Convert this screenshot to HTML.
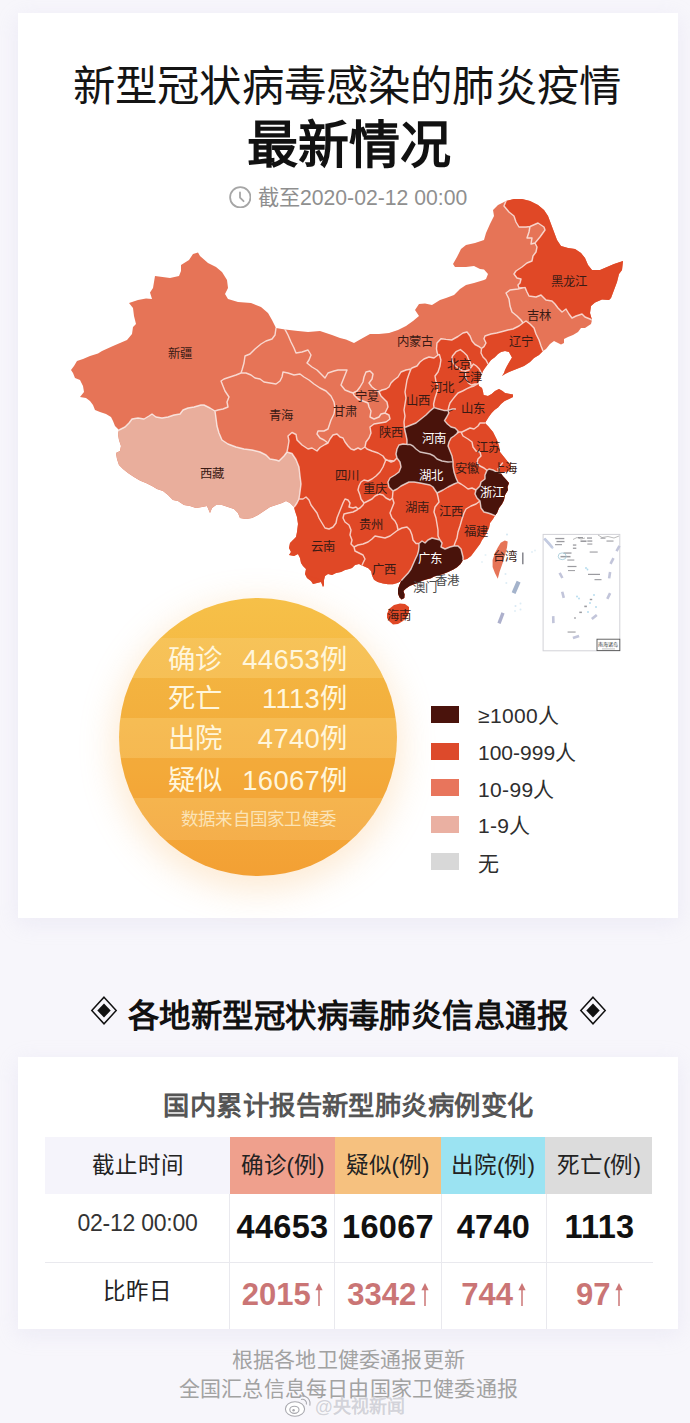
<!DOCTYPE html>
<html lang="zh-CN">
<head>
<meta charset="utf-8">
<title>新型冠状病毒感染的肺炎疫情 最新情况</title>
<style>
*{margin:0;padding:0;box-sizing:border-box}
html,body{width:690px;height:1423px;overflow:hidden}
body{position:relative;background:#f7f6fb;font-family:"Liberation Sans",sans-serif;color:#111}
.abs{position:absolute;white-space:nowrap}
.card{position:absolute;background:#fff;box-shadow:0 5px 20px rgba(200,194,228,.22)}
#card1{left:18px;top:13px;width:660px;height:905px}
#card2{left:18px;top:1057px;width:660px;height:272px}
#t1{left:17px;width:660px;top:61.7px;height:50px;line-height:50px;text-align:center;font-size:42.4px;letter-spacing:.15px;font-weight:400;color:#141414}
#t2{left:19px;width:660px;top:115.8px;height:60px;line-height:60px;text-align:center;font-size:51px;font-weight:700;color:#111}
#tsrow{left:18px;width:660px;top:184.4px;height:24px;display:flex;justify-content:center;align-items:center;font-size:21.2px;line-height:24px;font-weight:300;color:#8f8f8f}
#tsrow svg{width:22.6px;height:22.6px;margin-right:6.6px;flex:none;position:relative;top:.8px}
#tsrow span{position:relative;top:1.2px}
#map{left:0;top:0;width:690px;height:700px}
/* circle */
#circ{left:118.5px;top:597.5px;width:278px;height:278px;border-radius:50%;overflow:hidden;background:linear-gradient(180deg,#f6c048 0%,#f5b440 45%,#f3a034 100%)}
#circsh{left:122px;top:603px;width:271px;height:271px;border-radius:50%;box-shadow:0 8px 34px 8px rgba(249,190,118,.32)}
#circ .band{position:absolute;left:0;width:100%}
.crow{position:absolute;left:0;width:690px;height:40px;line-height:40px;color:#fff6dc;font-size:27.4px;font-weight:300}
.crow .l{position:absolute;left:168px}
.crow .r{position:absolute;right:342.5px;text-align:right;letter-spacing:.35px}
#src{left:119.5px;width:278px;text-align:center;top:807px;height:24px;line-height:24px;font-size:17.5px;letter-spacing:.3px;color:#fbe3b6}
/* legend */
.sw{position:absolute;left:431px;width:28.3px;height:17.3px}
.lg{position:absolute;left:478px;height:26px;line-height:26px;font-size:21px;letter-spacing:.35px;font-weight:300;color:#2e2e2e;white-space:nowrap}
/* section title */
#st{left:48px;width:600px;text-align:center;top:997px;height:40px;line-height:40px;font-size:31.4px;letter-spacing:.45px;font-weight:700;color:#111}
.dia{position:absolute;width:28px;height:29px}
#sub{left:18.5px;width:660px;top:1089.6px;height:32px;line-height:32px;text-align:center;font-size:26.3px;letter-spacing:.46px;font-weight:700;color:#555}
/* table */
.th{position:absolute;top:1137px;height:57px;line-height:57px;text-align:center;font-size:22.5px;font-weight:500;color:#222;white-space:nowrap}
.td{position:absolute;text-align:center;white-space:nowrap}
.vl{position:absolute;top:1194px;height:135px;width:1px;background:#e9e9ee}
.hl{position:absolute;left:45px;width:608px;height:1px;background:#e9e9ee}
.num{font-weight:700;font-size:32.5px;color:#111;height:40px;line-height:40px;letter-spacing:.3px}
.chg{font-weight:700;font-size:31px;color:#ca7575;height:40px;line-height:40px}
.ar{display:inline-block;width:8px;height:23px;margin-left:4.6px;vertical-align:baseline;position:relative;top:.5px}
.foot{position:absolute;left:18.5px;width:660px;text-align:center;color:#a2a2a2;font-size:21px;letter-spacing:.2px;height:28px;line-height:28px}
#wm{left:315px;top:1396px;height:22px;line-height:22px;font-size:18px;font-weight:700;color:#d3d3da;text-shadow:0 0 2px #fff,0 0 1px #fff}
#wb{left:284px;top:1394px;width:29px;height:24px}
</style>
</head>
<body>
<div class="card" id="card1"></div>
<div class="card" id="card2"></div>

<div class="abs" id="t1">新型冠状病毒感染的肺炎疫情</div>
<div class="abs" id="t2">最新情况</div>
<div class="abs" id="tsrow"><svg viewBox="0 0 22.6 22.6"><circle cx="11.3" cy="11.3" r="10.2" fill="none" stroke="#a6a6a6" stroke-width="1.8"/><path d="M11 6.4V11.6L14.6 15.2" fill="none" stroke="#a6a6a6" stroke-width="1.8" stroke-linecap="round" stroke-linejoin="round"/></svg><span>截至2020-02-12 00:00</span></div>

<svg class="abs" id="map" viewBox="0 0 690 700">
<!--MAP-->
<defs><clipPath id="cn"><path d="M119 430L115 426L113 421L111 417L106 414L100 412L95 410L93 405L90 401L86 398L80 397L84 392L83 386L80 380L75 378L73 373L71 370L74 366L77 361L83 359L90 356L98 353.5L102 351L113 346L127 340L132 334L133 327L136 324L134 316L133 308L129 303L138 300L146 298.6L152 299L150 292.4L153 288L155 276L170 278L179 276L181 271L181 265L189 260L193 254L198 252.4L200 256L208 263L216 267L222 272L227 280L228 288L225 294L228 299L238 302L251 303L261 307L268 313L272 320L276 328L285 329.4L298 331L308 332L320 331L332 335L340 338L346 339.5L354 343L361 339L370 334L379 334L389 333L398 330L406 326L413 321L419 316L415 310L419 304L425 303.6L432 305L440 300L446 298L454 295L460 289L466 285L474 283L484 280L486 279L488 274L484 269.5L480 269L474 266L466 267L455 267L453 264L457 257L461 249L466 245L475 243L484 240L486 233L490 224L494 216L493 210L498 205L504 202L506 201L514 199L522 199L530 201L538 205L544 210L548 216L551 224L554 232L557 240L561 246L568 248L575 249L581 253L585 258L588 265L592 270L600 270L607 267L614 264L623 261L622 270L619 274L617 282L614 290L611 298L609 300L602 299.5L595 302.5L591 306L590 313L592 320L591 324L585 328L581 328L578 332L573 335L568 337L564 339L564 343L561 344.5L554 341L550 344L546 349L543 351L539 355L534 358L530 362L524 366L519 368L514 370L509 372L505 374L502 376L504 373L505 370L507 366L509 362.6L512 357.5L510 354L509 352L505 351L501 352L498 354L494.5 357.5L491 360L488 364L485 368L483 371L481.5 375L480 379L478 383L479 386L482 388L483 391.6L483.6 395L488 396L491.6 394L495 391L499 389L502.5 391L505 393L510 394L513 394.5L513 397L509 399L504.6 401L501 404L498 407.5L494.5 410L491.6 413L488.7 417L486.5 420.6L485 423L488 426L493 432L497 440L499 446L500 452L504 457L508 462L511 465L510.8 469L508 471.5L504 471.8L500.5 472.8L502.8 476L506 479.5L509 483L507.5 487L508 490L505 495L504 500L502 504L499 508L497 513L495 515.6L493 519L490 523L489 528L487 532L485 536L482 540L480 544L477 548L474 552L471 556L467 559L463 560L460.5 564L457 567.3L453.3 569.6L448 572L443 574L438 575.6L434 576.6L431 578.3L427 579.3L422 580.8L418 583L414 584.3L410 585.8L406 588.5L403.4 591L404.6 594.5L404.3 598L401.6 599.4L399.4 597.2L398 593.6L398 589.3L399.4 585L401.6 580.3L400 581.5L397.2 583L393 584.2L388 584.2L383 583.5L377.7 582L374 579.8L372 575.5L371.2 571.2L368.3 568.3L364.5 566.6L362 565.5L359 564L355 565L352 568L349 569L345 570L341 572L336 573L332 575L328 574L325 576L324 580L324 585L323 587L321 582L317 583L313 584L311 581L307 578L305 574L306 569L303 566L301 563L300 558L298 554L294 556L289 555L291 552L289 548L290 543L293 540L296 537L297 532L298 524L297 517L295 511L294 507L290 503L286 501L282 503L276 505L270 507L264 511L258 515L252 518L246 519L240 518L238 513L234 509L228 507L222 505L216 505L212 508L210 513L207 506L202 507L196 508L190 506L184 505L178 501L173 500L168 495L163 491L157 489L152 486L146 483L141 481L139 480L134 477L128 473L123 469L119 465L117 459L116 453L120 451L121 446L119 440L118 434Z"/></clipPath></defs>
<path d="M119 430L115 426L113 421L111 417L106 414L100 412L95 410L93 405L90 401L86 398L80 397L84 392L83 386L80 380L75 378L73 373L71 370L74 366L77 361L83 359L90 356L98 353.5L102 351L113 346L127 340L132 334L133 327L136 324L134 316L133 308L129 303L138 300L146 298.6L152 299L150 292.4L153 288L155 276L170 278L179 276L181 271L181 265L189 260L193 254L198 252.4L200 256L208 263L216 267L222 272L227 280L228 288L225 294L228 299L238 302L251 303L261 307L268 313L272 320L276 328L285 329.4L298 331L308 332L320 331L332 335L340 338L346 339.5L354 343L361 339L370 334L379 334L389 333L398 330L406 326L413 321L419 316L415 310L419 304L425 303.6L432 305L440 300L446 298L454 295L460 289L466 285L474 283L484 280L486 279L488 274L484 269.5L480 269L474 266L466 267L455 267L453 264L457 257L461 249L466 245L475 243L484 240L486 233L490 224L494 216L493 210L498 205L504 202L506 201L514 199L522 199L530 201L538 205L544 210L548 216L551 224L554 232L557 240L561 246L568 248L575 249L581 253L585 258L588 265L592 270L600 270L607 267L614 264L623 261L622 270L619 274L617 282L614 290L611 298L609 300L602 299.5L595 302.5L591 306L590 313L592 320L591 324L585 328L581 328L578 332L573 335L568 337L564 339L564 343L561 344.5L554 341L550 344L546 349L543 351L539 355L534 358L530 362L524 366L519 368L514 370L509 372L505 374L502 376L504 373L505 370L507 366L509 362.6L512 357.5L510 354L509 352L505 351L501 352L498 354L494.5 357.5L491 360L488 364L485 368L483 371L481.5 375L480 379L478 383L479 386L482 388L483 391.6L483.6 395L488 396L491.6 394L495 391L499 389L502.5 391L505 393L510 394L513 394.5L513 397L509 399L504.6 401L501 404L498 407.5L494.5 410L491.6 413L488.7 417L486.5 420.6L485 423L488 426L493 432L497 440L499 446L500 452L504 457L508 462L511 465L510.8 469L508 471.5L504 471.8L500.5 472.8L502.8 476L506 479.5L509 483L507.5 487L508 490L505 495L504 500L502 504L499 508L497 513L495 515.6L493 519L490 523L489 528L487 532L485 536L482 540L480 544L477 548L474 552L471 556L467 559L463 560L460.5 564L457 567.3L453.3 569.6L448 572L443 574L438 575.6L434 576.6L431 578.3L427 579.3L422 580.8L418 583L414 584.3L410 585.8L406 588.5L403.4 591L404.6 594.5L404.3 598L401.6 599.4L399.4 597.2L398 593.6L398 589.3L399.4 585L401.6 580.3L400 581.5L397.2 583L393 584.2L388 584.2L383 583.5L377.7 582L374 579.8L372 575.5L371.2 571.2L368.3 568.3L364.5 566.6L362 565.5L359 564L355 565L352 568L349 569L345 570L341 572L336 573L332 575L328 574L325 576L324 580L324 585L323 587L321 582L317 583L313 584L311 581L307 578L305 574L306 569L303 566L301 563L300 558L298 554L294 556L289 555L291 552L289 548L290 543L293 540L296 537L297 532L298 524L297 517L295 511L294 507L290 503L286 501L282 503L276 505L270 507L264 511L258 515L252 518L246 519L240 518L238 513L234 509L228 507L222 505L216 505L212 508L210 513L207 506L202 507L196 508L190 506L184 505L178 501L173 500L168 495L163 491L157 489L152 486L146 483L141 481L139 480L134 477L128 473L123 469L119 465L117 459L116 453L120 451L121 446L119 440L118 434Z" fill="#e67457"/>
<g clip-path="url(#cn)">
<path d="M119 430L125 427L129 423L132 419L138 418L144 419L149 416L152 414L156 417L162 418L168 417L174 415L180 414L183 410L188 408L194 407L201 405L204 405L210 408L215 411L216 418L217 426L219 433L222 440L228 444L236 447L244 449L252 450L260 452L266 455L270 459L276 460L279 461L284 456L287 452L292 453.5L296 459.5L299 467L300 476L301 484L300 492L299 499L297 503L295 506L294 507L294 530L100 530L100 430Z" fill="#e9ae9c"/>
<path d="M543 351L541 346L539 340L536 334L534 328L530 324L526 321L523 323L519 326L513 329L508 330L502.5 331.5L496.7 333L491 334L485 336L484 338.7L486 343L484 346.6L481.5 348.5L479 346.7L475 344.5L472 341L470 336L467 332L463 333L458 336.5L451.7 340L446 339.4L441 338.7L437 343L436.5 348.8L437 352L438 355L434 358L429 357L424 359L420 362L417 366L412 368L411 369L406 370L401 372L398 377L394 380L391 383L389 387L386 389L382 390L379 391.6L381 396L384 399L387 402L388 407L386 411L385 413L389 415L390 419L386 422L380 423L374 424L370 427L371 433L369 438L366 442L365 447L361 449.5L358 448L354 450L351 449L348 446L345 442L343 438L340 437L337 434L333 435L330 439L328 443L325 444.5L320 447.5L317 451L312 448L308 449L302 445L297 440L296 434.5L292 432.5L288 436L289 441L288 447L287 452L292 453.5L296 459.5L299 467L300 476L301 484L300 492L299 499L297 503L295 506L294 507L280 520L280 640L560 640L560 351Z" fill="#e04826"/>
<path d="M506 201L504 206L509 212L514 216L516 222L519 227L526 227L530 226.5L538 223L544 227L545 230L540 237L535 243L537 247L536 252L533 256L532 261L527 263L522 267L516 271L514 274L517 278L521 279L520 283L518 285L519 288L525 287.4L527 292L529 296L536 297L541 295L546 300L552 301L555 304L558 308L562 312L566 309L569 314L572 318L576 316L582 314L585 317L590 319L592 320L640 320L640 190L506 190Z" fill="#e04826"/>
<path d="M404.4 427.4L406 427L411 425L416 423L421 419L426 415L430 411L434 407.6L438.7 409L443.8 410.4L448 410.4L452.5 409L455.4 409L449 412L448 410.4L448.8 413L446.7 417L444.5 420.6L447.4 424L451 427L455 428L458 431L457 433.5L454 436L451 438L449 442L448 446L450 451L452 456L453 461.6L448 462L442 461L437 459L434 456L430 454L425 453L420 452L416 449L413 446L410 444.4L407 444.4L407 440L406 435L405 431L404.4 427.4Z" fill="#49130b"/>
<path d="M397 458L396 454L397 449L399 445L403 444L407 444.4L410 444.4L413 446L416 449L420 452L425 453L430 454L434 456L437 459L442 461L448 462L453 461.6L453 466L454 472L456 478L458 482.4L454 484L448 487L443 490L439 492L437 493L435 490L433 487L430 485L425 484L420 483L414 482L409 482L405 484L401 486L397 489L393 491L389 487L388 482L390 478L395 475L399 472L401 467L400 462L397 458Z" fill="#49130b"/>
<path d="M487 470.4L489 469L493 470L496 471.6L498.5 472.4L500.5 472.8L515 476L520 520L495 515.6L491 514L488 513L484 512L481 508L480 501L477 498L475 494L476 490L477 489L480 486L481 482L485 479L485 475L487 470.4Z" fill="#49130b"/>
<path d="M419 543.5L422 541L425 543L428 540L432 538L436 539L440 540L442 543L441 547L445 549L450 547L454 546L458 546L461 549L462 553L463 557L463 560L475 575L410 610L395 600L395 585L401.6 580.3L404.5 577L408 573.3L411 569L413.2 564L415.4 559L417.3 555L418.5 551L419 547L419 543.5Z" fill="#49130b"/>
<path d="M119 430L125 427L129 423L132 419L138 418L144 419L149 416L152 414L156 417L162 418L168 417L174 415L180 414L183 410L188 408L194 407L201 405L204 405L210 408L215 411 M215 411L216 418L217 426L219 433L222 440L228 444L236 447L244 449L252 450L260 452L266 455L270 459L276 460L279 461L284 456L287 452 M287 452L292 453.5L296 459.5L299 467L300 476L301 484L300 492L299 499 M299 499L297 503L295 506L294 507 M215 411L218 410L223 409L228 407L227 402L229 397L225 391L223 386L221 381L224 379L230 377L236 375L241 373 M241 373L242 370L244 363L245 356L250 354L255 349L261 344L266 341L272 339L275 335L276 328 M241 373L246 373L251 375L255 378L260 379L264 382L270 383L276 384L280 381L282 377L283 372L288 373L294 375L300 374L304 377L309 380L314 384L320 388L326 391L331 396L334 402L335 408L334 414L331 420L329 426L328 429L324 431L318 431L317 434L320 438L324 440L328 443 M285 329.4L288 335L291 342L294 348L296 353L302 352L308 350L311 355L309 360L307 363L312 367L317 370L321 374L325 378L328 373L334 371L338 370L344 370L347 370L345 375L343 380L341 385L345 390L350 392L353 393 M353 393L357 391L360 387L363 382L364 377L366 372L370 371L373 374L372 379L369 383L372 387L376 390L379 391.6 M353 393L354 395L358 399L363 401L368 403L369 407L371 411L370 417L374 419L379 417L381 414L385 413 M379 391.6L381 396L384 399L387 402L388 407L386 411L385 413 M385 413L389 415L390 419L386 422L380 423L374 424L370 427L371 433L369 438L366 442L365 447 M365 447L361 449.5L358 448L354 450L351 449L348 446L345 442L343 438L340 437L337 434L333 435L330 439L328 443 M328 443L325 444.5L320 447.5L317 451L312 448L308 449L302 445L297 440L296 434.5L292 432.5L288 436L289 441L288 447L287 452 M379 391.6L382 390L386 389L389 387L391 383L394 380L398 377L401 372L406 370L411 369 M411 369L412 368L417 366L420 362L424 359L429 357L434 358L438 355 M438 355L437 352L436.5 348.8L437 343L441 338.7L446 339.4L451.7 340L458 336.5L463 333L467 332L470 336L472 341L475 344.5L479 346.7L481.5 348.5 M481.5 348.5L484 346.6L486 343L484 338.7L485 336L491 334L496.7 333L502.5 331.5L508 330L513 329L519 326L523 323 M481.5 348.5L481 353L483 357L486 360L488 364 M523 323L526 321L530 324L534 328L536 334L539 340L541 346L543 351 M523 323L521 320L517 316L512 312L510 306L509 299L506 293L510 290L518 289L525 287.4 M525 287.4L527 292L529 296L536 297L541 295L546 300L552 301L555 304L558 308L562 312L566 309L569 314L572 318L576 316L582 314L585 317L590 319L592 320 M506 201L504 206L509 212L514 216L516 222L519 227L526 227L530 226.5L538 223L544 227L545 230L540 237L535 243L537 247L536 252L533 256L532 261L527 263L522 267L516 271L514 274L517 278L521 279L520 283L518 285L519 288L525 287.4 M530 226.5L529 232L527 238L531 238L532 238L531 244L535 243 M411 369L409 374L407 380L406 386L405 392L406 398L405 404L404 410L405 416L404 422L404.4 427.4 M438 355L439.4 354.6L440.9 360L440 366L438 372L435 376L435.8 380.7L438 386.5L437 392L435 398L433.6 404L434 407.6 M404.4 427.4L406 427L411 425L416 423L421 419L426 415L430 411L434 407.6 M404.4 427.4L405 431L406 435L407 440L407 444.4 M407 444.4L403 444L399 445L397 449L396 454L397 458 M397 458L396 459L394 461 M394 461L391 462L387 460L385 459L383 456L378 453L372 451L367 449L365 447 M434 407.6L438.7 409L443.8 410.4L448 410.4 M448 410.4L452.5 409L455.4 409 M448 410.4L448.8 406.8L450 403L452.5 399.6L455.4 396L458 393L462.6 391L467 388.7L470.6 387L474 386L478 383.6 M448 410.4L448.8 413L446.7 417L444.5 420.6L447.4 424L451 427L455 428L458 431L457 433.5 M457 433.5L454 436L451 438L449 442L448 446L450 451L452 456L453 461.6 M453 461.6L448 462L442 461L437 459L434 456L430 454L425 453L420 452L416 449L413 446L410 444.4L407 444.4 M457 433.5L459 432L462 432L466 430L470 428L474 429L478 426L480 423L485 423 M461 432L463 436L468 439L472 442L473 447L476 451L480 452L481 456L478 459L477 463L480 466L484 468L487 470.4 M487 470.4L489 469L493 470L496 471.6L498.5 472.4L500.5 472.8 M502.5 463L499.6 466.6L498 469L498.8 472.4 M487 470.4L485 475L485 479L481 482L480 486L477 489L476 490 M476 490L472 488L468 489L464 486L461 484L458 482.4 M453 461.6L453 466L454 472L456 478L458 482.4 M458 482.4L454 484L448 487L443 490L439 492L437 493 M437 493L435 490L433 487L430 485L425 484L420 483L414 482L409 482L405 484L401 486L397 489L393 491 M393 491L389 487L388 482L390 478L395 475L399 472L401 467L400 462L397 458 M393 491L392.4 498 M394 461L385.6 460L385 462L383 467L380 472L376 476L372 479L368 481L364 480L361 482L359 486L358 490L360 495L361 499L364 503 M364 503L368 501L372 499L375 496L379 494L383 495L386 498L390 500L392.4 498 M358 509L360 508L363 505L364 503 M299 499L303 499L306 497L309 500L311 505L314 509L317 513L319 518L322 523L325 528L329 529L333 527L336 523L337 518L339 513L341 508L343 503L345 499L348 500L350 503L349 507L353 508L356 507L358 509 M358 509L357 510L353 512L348 513L344 514L343 518L345 522L349 525L351 530L350 535L352 540L351 544L354 547 M354 547L355 551L359 553L363 555L365 559L363 563L362 565.5 M354 547L358 545L363 544L368 542L372 539L375 536L380 537L385 538L390 536L394 533L398 530 M392.4 498L394 503L392 508L390 513L392 518L395 521L397 525L398 530 M398 530L402 528L407 527L410 530L412 535L413 540L416 543.5L419 543.5 M419 543.5L419 547L418.5 551L417.3 555L415.4 559L413.2 564L411 569L408 573.3L404.5 577L401.6 580.3 M419 543.5L422 541L425 543L428 540L432 538L436 539L440 540 M440 540L442 543L441 547L445 549L450 547L454 546 M454 546L458 546L461 549L462 553L463 557L463 560 M437 493L438 497L439 502L435 507L434 512L436 518L437 524L438 530L438 536L440 540 M480 501L476 504L471 506L466 509L464 513L462 519L460 526L458 532L457 538L455 543L454 546 M476 490L475 494L477 498L480 501 M480 501L481 508L484 512L488 513L491 514L495 515.6 M452.5 356L456 351.7L460.4 349.6L464 352.5L467 355.4L468.4 359L470.6 363L471.3 367L469 370L465.5 371L462 370.6L459 368.4L455.4 366L453 362.6L451.7 359L452.5 356 M471.3 367L473.5 364L476.4 366L479.3 369L481.5 373.5 M478 383.6L475 384L471.3 385L468.4 383L466 379L465.5 375L465.5 371" fill="none" stroke="#fff" stroke-opacity=".72" stroke-width="1.45" stroke-linejoin="round" stroke-linecap="round"/>
</g>
<path d="M387 614L389 609L394 605L400 603.6L405 604L409 607L409 612L407 617L403 621L398 624L393 624.4L389 621L387 618Z" fill="#e04826"/>
<path d="M504.8 540.4L507.7 541.6L507 547.4L504.8 555.5L502.5 563.6L499.6 571.7L497.8 578.7L494.9 572.9L492.6 567L492.6 560L494.9 553L497.8 547.4L500.7 542.8Z" fill="#e67457"/>
<g font-family="Liberation Sans, sans-serif" font-size="12.4" text-anchor="middle">
<text x="180" y="358.1" fill="#3a1a14">新疆</text>
<text x="212" y="478.1" fill="#3a1a14">西藏</text>
<text x="281" y="420.1" fill="#3a1a14">青海</text>
<text x="345" y="416.1" fill="#3a1a14">甘肃</text>
<text x="415" y="346.1" fill="#3a1a14">内蒙古</text>
<text x="367" y="400.6" fill="#3a1a14">宁夏</text>
<text x="569" y="286.1" fill="#3a1a14">黑龙江</text>
<text x="539" y="320.1" fill="#3a1a14">吉林</text>
<text x="521" y="345.6" fill="#3a1a14">辽宁</text>
<text x="458.5" y="369.1" fill="#3a1a14">北京</text>
<text x="470" y="382.1" fill="#3a1a14">天津</text>
<text x="441.5" y="391.6" fill="#3a1a14">河北</text>
<text x="418" y="405.1" fill="#3a1a14">山西</text>
<text x="472.5" y="412.6" fill="#3a1a14">山东</text>
<text x="391" y="437.1" fill="#3a1a14">陕西</text>
<text x="433.5" y="443.1" fill="#fff">河南</text>
<text x="488" y="452.1" fill="#3a1a14">江苏</text>
<text x="466.5" y="473.1" fill="#3a1a14">安徽</text>
<text x="504.8" y="473.1" fill="#3a1a14">上海</text>
<text x="430.5" y="480.1" fill="#fff">湖北</text>
<text x="491.5" y="497.1" fill="#fff">浙江</text>
<text x="347" y="480.1" fill="#3a1a14">四川</text>
<text x="375" y="493.1" fill="#3a1a14">重庆</text>
<text x="416.5" y="511.6" fill="#3a1a14">湖南</text>
<text x="450.5" y="516.1" fill="#3a1a14">江西</text>
<text x="371" y="529.1" fill="#3a1a14">贵州</text>
<text x="475.5" y="535.6" fill="#3a1a14">福建</text>
<text x="323" y="551.1" fill="#3a1a14">云南</text>
<text x="384.3" y="574.1" fill="#3a1a14">广西</text>
<text x="430" y="562.6" fill="#fff">广东</text>
<text x="504.8" y="561.1" fill="#3a1a14">台湾</text>
<text x="447" y="585.1" fill="#4a4a4a">香港</text>
<text x="425" y="592.1" fill="#4a4a4a">澳门</text>
<text x="399" y="620.1" fill="#3a1a14">海南</text>
</g>
<rect x="543.1" y="534.4" width="76.7" height="116.4" fill="#fff" stroke="#d2d2d8" stroke-width="1"/>
<rect x="597" y="639.2" width="22.8" height="11.4" fill="#fff" stroke="#555" stroke-width="0.9"/>
<text x="608.4" y="645.6" font-family="Liberation Sans, sans-serif" font-size="5" text-anchor="middle" fill="#333">南海诸岛</text>
<path d="M602 648.9H615" stroke="#999" stroke-width="0.6"/>
<path d="M544.3 538.5L552.3 547.5" stroke="#c2c5da" stroke-width="2.6" opacity="1"/>
<path d="M616.5 551.1L619.5 545.9" stroke="#c2c5da" stroke-width="2.6" opacity="1"/>
<path d="M610.5 563.9L613.5 558.1" stroke="#c2c5da" stroke-width="2.6" opacity="1"/>
<path d="M609.1 578.4L610.1 572.0" stroke="#c2c5da" stroke-width="2.6" opacity="1"/>
<path d="M607.3 598.9L610.1 593.1" stroke="#c2c5da" stroke-width="2.6" opacity="1"/>
<path d="M591.8 619.1L596.8 614.9" stroke="#c2c5da" stroke-width="2.6" opacity="1"/>
<path d="M572.9 638.1L579.1 635.9" stroke="#c2c5da" stroke-width="2.6" opacity="1"/>
<path d="M553.2 616.1L553.4 623.1" stroke="#c2c5da" stroke-width="2.6" opacity="1"/>
<path d="M562.2 591.7L563.8 597.9" stroke="#c2c5da" stroke-width="2.6" opacity="1"/>
<path d="M559.6 572.8L562.4 578.0" stroke="#c2c5da" stroke-width="2.6" opacity="1"/>
<rect x="555.3" y="537.9" width="9" height="1.3" fill="#5d5d66" opacity=".62"/>
<rect x="556.5" y="540.9" width="8" height="1.3" fill="#5d5d66" opacity=".62"/>
<rect x="555.0" y="544.1" width="7" height="1.1" fill="#5d5d66" opacity=".62"/>
<rect x="578.0" y="537.0" width="5" height="1.2" fill="#5d5d66" opacity=".62"/>
<rect x="580.5" y="540.4" width="6" height="1.6" fill="#5d5d66" opacity=".62"/>
<rect x="587.0" y="537.4" width="5" height="1.3" fill="#5d5d66" opacity=".62"/>
<rect x="587.3" y="540.4" width="5" height="1.3" fill="#5d5d66" opacity=".62"/>
<rect x="587.3" y="543.5" width="5" height="1.1" fill="#5d5d66" opacity=".62"/>
<rect x="600.5" y="537.7" width="5" height="1" fill="#5d5d66" opacity=".62"/>
<rect x="606.5" y="540.5" width="7" height="1.1" fill="#5d5d66" opacity=".62"/>
<rect x="572.9" y="544.4" width="3.4" height="1.3" fill="#5d5d66" opacity=".62"/>
<rect x="572.9" y="547.6" width="3.4" height="1.3" fill="#5d5d66" opacity=".62"/>
<rect x="563.5" y="552.4" width="8" height="1.3" fill="#5d5d66" opacity=".62"/>
<rect x="560.5" y="555.9" width="10" height="1.5" fill="#5d5d66" opacity=".62"/>
<rect x="567.3" y="559.5" width="7" height="1.1" fill="#5d5d66" opacity=".62"/>
<rect x="589.7" y="551.5" width="8" height="1.1" fill="#5d5d66" opacity=".62"/>
<rect x="567.5" y="565.9" width="9" height="1.2" fill="#5d5d66" opacity=".62"/>
<rect x="568.0" y="570.1" width="7" height="1" fill="#5d5d66" opacity=".62"/>
<rect x="588.0" y="573.8" width="12" height="1.2" fill="#5d5d66" opacity=".62"/>
<rect x="594.5" y="579.1" width="7" height="1.1" fill="#5d5d66" opacity=".62"/>
<rect x="589.8" y="598.8" width="2.4" height="1.4" fill="#5d5d66" opacity=".62"/>
<rect x="584.3" y="605.6" width="2.6" height="1.6" fill="#5d5d66" opacity=".62"/>
<rect x="579.3" y="611.6" width="2.6" height="1.5" fill="#5d5d66" opacity=".62"/>
<rect x="574.0" y="617.4" width="2" height="1.2" fill="#5d5d66" opacity=".62"/>
<rect x="567.6" y="631.5" width="8" height="1.1" fill="#5d5d66" opacity=".62"/>
<ellipse cx="562.2" cy="556.3" rx="4" ry="3.4" fill="none" stroke="#9fc7d6" stroke-width=".8"/>
<path d="M544.5 538.5L549 543L553 548.5" fill="none" stroke="#c3cde3" stroke-width="2.2" opacity=".8"/>
<path d="M573 539.5L577 537.5L581 539L585 538" fill="none" stroke="#777" stroke-width=".7" opacity=".7"/>
<path d="M598 535L602 537.5L608 536.5L614 538L619 536" fill="none" stroke="#777" stroke-width=".7" opacity=".7"/>
<circle cx="586" cy="568" r=".9" fill="#9ed0e8" opacity=".8"/>
<circle cx="587.5" cy="569.5" r=".9" fill="#9ed0e8" opacity=".8"/>
<circle cx="577" cy="596.5" r=".9" fill="#9ed0e8" opacity=".8"/>
<circle cx="579" cy="598.5" r=".9" fill="#9ed0e8" opacity=".8"/>
<circle cx="590" cy="603" r=".9" fill="#9ed0e8" opacity=".8"/>
<circle cx="596" cy="607" r=".9" fill="#9ed0e8" opacity=".8"/>
<circle cx="588" cy="612" r=".9" fill="#9ed0e8" opacity=".8"/>
<circle cx="594" cy="595" r=".9" fill="#9ed0e8" opacity=".8"/>
<path d="M513.6 593.1L518.6 581.7" stroke="#a4b3cb" stroke-width="4.2" opacity="1"/>
<path d="M499.0 623.3L503.0 612.9" stroke="#adb0cc" stroke-width="3.4" opacity="1"/>
<path d="M522.8 552.6V564.2" stroke="#85858c" stroke-width="1.5"/>
<circle cx="507" cy="534.5" r="1" fill="#a9cfe6" opacity="0.5"/>
<circle cx="532" cy="552" r="1" fill="#a9cfe6" opacity="0.35"/>
<circle cx="535" cy="550.5" r="1" fill="#a9cfe6" opacity="0.3"/>
<circle cx="505.5" cy="574" r="1" fill="#a9cfe6" opacity="0.4"/>
<circle cx="506.3" cy="583" r="1" fill="#a9cfe6" opacity="0.4"/>
<circle cx="515.5" cy="606" r="1" fill="#a9cfe6" opacity="0.45"/>
<circle cx="520.5" cy="603.5" r="1" fill="#a9cfe6" opacity="0.4"/>
<circle cx="520.5" cy="609.5" r="1" fill="#a9cfe6" opacity="0.4"/>
<circle cx="515" cy="611" r="1" fill="#a9cfe6" opacity="0.35"/>
<circle cx="485.5" cy="555" r="1" fill="#a9cfe6" opacity="0.3"/>
<circle cx="482" cy="562" r="1" fill="#a9cfe6" opacity="0.3"/>
<!--/MAP-->
</svg>

<div class="abs" id="circsh"></div>
<div class="abs" id="circ">
  <div class="band" style="top:40px;height:40px;background:rgba(255,238,205,.14)"></div>
  <div class="band" style="top:80px;height:40.5px;background:rgba(228,130,30,.085)"></div>
  <div class="band" style="top:120.5px;height:40px;background:rgba(255,238,205,.14)"></div>
  <div class="band" style="top:160.5px;height:40px;background:rgba(228,130,30,.085)"></div>
  <div class="band" style="top:200.5px;height:42px;background:rgba(255,238,205,.14)"></div>
</div>
<div class="crow" style="top:639.5px"><span class="l">确诊</span><span class="r">44653例</span></div>
<div class="crow" style="top:679.3px"><span class="l">死亡</span><span class="r">1113例</span></div>
<div class="crow" style="top:719.4px"><span class="l">出院</span><span class="r">4740例</span></div>
<div class="crow" style="top:760.5px"><span class="l">疑似</span><span class="r">16067例</span></div>
<div class="abs" id="src">数据来自国家卫健委</div>

<div class="sw" style="top:706px;background:#4a130c"></div><div class="lg" style="top:703.4px">≥1000人</div>
<div class="sw" style="top:743px;background:#dd4a2b"></div><div class="lg" style="top:740px;letter-spacing:0">100-999人</div>
<div class="sw" style="top:779px;background:#e8755c"></div><div class="lg" style="top:776.7px">10-99人</div>
<div class="sw" style="top:816px;background:#eab0a2"></div><div class="lg" style="top:813.3px">1-9人</div>
<div class="sw" style="top:853px;background:#d8d8d8"></div><div class="lg" style="top:850.7px">无</div>

<svg class="dia" style="left:89.5px;top:996.1px" viewBox="0 0 28 29"><path d="M14 1.2L26.2 14.5L14 27.8L1.8 14.5Z" fill="none" stroke="#111" stroke-width="1.5"/><path d="M14 7.6L20.7 14.5L14 21.4L7.3 14.5Z" fill="#111"/></svg>
<div class="abs" id="st">各地新型冠状病毒肺炎信息通报</div>
<svg class="dia" style="left:579px;top:996.4px" viewBox="0 0 28 29"><path d="M14 1.2L26.2 14.5L14 27.8L1.8 14.5Z" fill="none" stroke="#111" stroke-width="1.5"/><path d="M14 7.6L20.7 14.5L14 21.4L7.3 14.5Z" fill="#111"/></svg>

<div class="abs" id="sub">国内累计报告新型肺炎病例变化</div>

<div class="th" style="left:45px;width:185px;background:#f5f4fb">截止时间</div>
<div class="th" style="left:230px;width:105px;background:#efa08d">确诊(例)</div>
<div class="th" style="left:334.5px;width:106px;background:#f6c17f">疑似(例)</div>
<div class="th" style="left:440.5px;width:105px;background:#9be3f2">出院(例)</div>
<div class="th" style="left:545.3px;width:107.2px;background:#dcdcdc">死亡(例)</div>
<div class="vl" style="left:229px"></div><div class="vl" style="left:334px"></div><div class="vl" style="left:441px"></div><div class="vl" style="left:546px"></div>
<div class="hl" style="top:1262px"></div>

<div class="td" style="left:45px;width:185px;top:1208px;height:30px;line-height:30px;font-size:23px;letter-spacing:-.25px;color:#333">02-12 00:00</div>
<div class="td num" style="left:230px;width:105px;top:1207.3px">44653</div>
<div class="td num" style="left:335px;width:106px;top:1207.3px">16067</div>
<div class="td num" style="left:441px;width:105px;top:1207.3px">4740</div>
<div class="td num" style="left:546px;width:107px;top:1207.3px">1113</div>

<div class="td" style="left:45px;width:185px;top:1277px;height:30px;line-height:30px;font-size:22.5px;font-weight:500;color:#222">比昨日</div>
<div class="td chg" style="left:230px;width:105px;top:1275.2px">2015<svg class="ar" viewBox="0 0 8 23"><path d="M4 23V5" stroke="#cb7676" stroke-width="1.5" fill="none"/><path d="M4 0L7.6 7.2H0.4Z" fill="#cb7676"/></svg></div>
<div class="td chg" style="left:335px;width:106px;top:1275.2px">3342<svg class="ar" viewBox="0 0 8 23"><path d="M4 23V5" stroke="#cb7676" stroke-width="1.5" fill="none"/><path d="M4 0L7.6 7.2H0.4Z" fill="#cb7676"/></svg></div>
<div class="td chg" style="left:441px;width:105px;top:1275.2px">744<svg class="ar" viewBox="0 0 8 23"><path d="M4 23V5" stroke="#cb7676" stroke-width="1.5" fill="none"/><path d="M4 0L7.6 7.2H0.4Z" fill="#cb7676"/></svg></div>
<div class="td chg" style="left:546px;width:107px;top:1275.2px">97<svg class="ar" viewBox="0 0 8 23"><path d="M4 23V5" stroke="#cb7676" stroke-width="1.5" fill="none"/><path d="M4 0L7.6 7.2H0.4Z" fill="#cb7676"/></svg></div>

<div class="foot" style="top:1346px">根据各地卫健委通报更新</div>
<div class="foot" style="top:1375px">全国汇总信息每日由国家卫健委通报</div>
<svg class="abs" id="wb" viewBox="0 0 29 24"><g fill="none" stroke="#a8a8ae" stroke-width="1.1"><ellipse cx="11" cy="15" rx="9.6" ry="7.2" fill="#fff"/><ellipse cx="10.4" cy="15.8" rx="4.6" ry="3.6"/><path d="M17 5.5c3.2-1 6.2 1.6 5.4 5"/><path d="M16.2 2.2c5.6-1.6 11 3.2 9.6 9.4"/></g><circle cx="9.6" cy="16.2" r="1.2" fill="#a8a8ae"/></svg>
<div class="abs" id="wm">@央视新闻</div>
</body>
</html>
